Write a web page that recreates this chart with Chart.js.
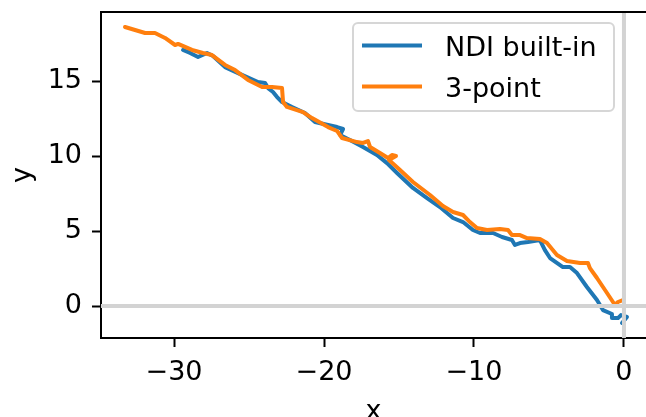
<!DOCTYPE html>
<html>
<head>
<meta charset="utf-8">
<script src="https://cdn.jsdelivr.net/npm/chart.js@4"></script>
<style>
  html, body { margin: 0; padding: 0; background: #fff; }
  canvas { display: block; }
</style>
</head>
<body>
<canvas id="myChart" width="646" height="417"></canvas>
<script>
// NDI built-in track
const ndiX = [-29.4, -28.93, -28.4, -27.8, -27.4, -26.6, -25.73, -24.4, -23.93, -23.73, -23.4, -23.13, -22.8, -22.13, -21.27, -20.6, -19.73, -19.13, -18.73, -18.93, -18.27, -17.4, -16.47, -15.8, -15.13, -14.07, -13.13, -12.27, -11.4, -10.73, -10.07, -9.6, -8.73, -8.13, -7.47, -7.27, -6.93, -6.4, -5.6, -5.27, -4.93, -4.07, -3.6, -3.13, -2.47, -1.8, -1.4, -0.8, -0.8, -0.4, -0.2, 0.2, -0.13];
const ndiY = [17.07, 16.87, 16.6, 16.87, 16.67, 15.93, 15.53, 14.93, 14.87, 14.53, 14.27, 13.93, 13.6, 13.27, 12.87, 12.27, 12.07, 11.93, 11.8, 11.4, 11.07, 10.6, 10.07, 9.53, 8.87, 7.87, 7.2, 6.6, 5.87, 5.6, 5.07, 4.87, 4.87, 4.6, 4.4, 4.07, 4.2, 4.27, 4.4, 3.73, 3.2, 2.6, 2.6, 2.2, 1.27, 0.4, -0.27, -0.53, -0.8, -0.8, -0.6, -0.73, -1.13];

// 3-point track
const threeX = [-33.27, -31.93, -31.27, -30.6, -29.93, -29.73, -28.8, -28.07, -27.47, -26.6, -25.93, -25.07, -24.13, -23.47, -22.8, -22.73, -22.47, -21.4, -20.8, -19.73, -19.13, -18.8, -17.8, -17.4, -17.07, -16.93, -16.27, -15.73, -15.47, -15.2, -15.67, -14.93, -14.07, -12.93, -12.07, -11.4, -10.73, -10.27, -9.8, -9.13, -8.27, -7.73, -7.47, -6.93, -6.47, -5.6, -5.13, -4.47, -3.8, -2.93, -2.4, -2.27, -1.8, -1.13, -0.6, -0.4, -0.07];
const threeY = [18.6, 18.2, 18.2, 17.87, 17.4, 17.47, 17.07, 16.87, 16.73, 16.07, 15.73, 15.07, 14.6, 14.6, 14.53, 13.6, 13.27, 12.93, 12.53, 11.93, 11.67, 11.2, 10.93, 10.87, 11.0, 10.6, 10.2, 9.87, 10.07, 10.0, 9.73, 9.07, 8.27, 7.4, 6.67, 6.27, 6.07, 5.6, 5.2, 5.07, 5.13, 5.07, 4.73, 4.73, 4.53, 4.47, 4.2, 3.4, 3.0, 2.87, 2.87, 2.53, 1.87, 0.87, 0.07, 0.27, 0.4];

const xTicks = [-30, -20, -10, 0];
const yTicks = [0, 5, 10, 15];
const seriesLabels = ["NDI built-in", "3-point"];
const seriesColors = ["#1f77b4", "#ff7f0e"];

const FONT = "'DejaVu Sans', sans-serif";
const fmt = (v) => (v < 0 ? "\u2212" + Math.abs(v) : String(v));
const pts = (xs, ys) => xs.map((x, i) => ({ x: x, y: ys[i] }));

// grey lines through the origin, drawn over the tracks
const zeroLines = {
  id: "zeroLines",
  afterDatasetsDraw(chart) {
    const { ctx, chartArea, scales } = chart;
    const x0 = scales.x.getPixelForValue(0);
    const y0 = scales.y.getPixelForValue(0);
    ctx.save();
    ctx.beginPath();
    ctx.rect(chartArea.left, chartArea.top, chartArea.right - chartArea.left, chartArea.bottom - chartArea.top);
    ctx.clip();
    ctx.strokeStyle = "#d3d3d3";
    ctx.lineWidth = 4;
    ctx.beginPath();
    ctx.moveTo(chartArea.left, y0);
    ctx.lineTo(chartArea.right, y0);
    ctx.moveTo(x0, chartArea.top);
    ctx.lineTo(x0, chartArea.bottom);
    ctx.stroke();
    ctx.restore();
  },
};

// top spine + matplotlib style legend box
const frame = {
  id: "frame",
  afterDraw(chart) {
    const { ctx, chartArea } = chart;
    ctx.save();
    ctx.strokeStyle = "#000";
    ctx.lineWidth = 2;
    ctx.beginPath();
    ctx.moveTo(chartArea.left, chartArea.top);
    ctx.lineTo(chartArea.right, chartArea.top);
    ctx.stroke();

    const bx = 353, by = 23, bw = 261, bh = 88, r = 5;
    ctx.beginPath();
    ctx.roundRect(bx, by, bw, bh, r);
    ctx.fillStyle = "rgba(255,255,255,0.8)";
    ctx.fill();
    ctx.strokeStyle = "#d6d6d6";
    ctx.lineWidth = 2;
    ctx.stroke();

    ctx.font = "27px " + FONT;
    ctx.textBaseline = "alphabetic";
    ctx.textAlign = "left";
    chart.data.datasets.forEach((ds, i) => {
      const rowY = 45.5 + i * 41;
      ctx.strokeStyle = ds.borderColor;
      ctx.lineWidth = 4;
      ctx.beginPath();
      ctx.moveTo(362, rowY);
      ctx.lineTo(422, rowY);
      ctx.stroke();
      ctx.fillStyle = "#000";
      ctx.fillText(ds.label, 445, rowY + 10);
    });
    ctx.restore();
  },
};

const tickFont = { family: FONT, size: 27 };

new Chart(document.getElementById("myChart"), {
  type: "scatter",
  data: {
    datasets: [
      {
        label: seriesLabels[0],
        data: pts(ndiX, ndiY),
        showLine: true,
        borderColor: seriesColors[0],
        backgroundColor: seriesColors[0],
        borderWidth: 4,
        borderJoinStyle: "round",
        borderCapStyle: "round",
        pointRadius: 0,
        order: 1,
      },
      {
        label: seriesLabels[1],
        data: pts(threeX, threeY),
        showLine: true,
        borderColor: seriesColors[1],
        backgroundColor: seriesColors[1],
        borderWidth: 4,
        borderJoinStyle: "round",
        borderCapStyle: "round",
        pointRadius: 0,
        order: 0,
      },
    ],
  },
  options: {
    responsive: false,
    animation: false,
    devicePixelRatio: 1,
    layout: { padding: { top: 12, right: 0, bottom: 0, left: 0 } },
    plugins: { legend: { display: false }, tooltip: { enabled: false } },
    scales: {
      x: {
        type: "linear",
        min: -34.87,
        max: 1.47,
        afterBuildTicks: (s) => { s.ticks = xTicks.map((v) => ({ value: v })); },
        afterFit: (s) => { s.height = 79; s.paddingLeft = 0; s.paddingRight = 0; },
        grid: { drawOnChartArea: false, tickLength: 9, tickColor: "#000", tickWidth: 2 },
        border: { color: "#000", width: 2 },
        ticks: { font: tickFont, color: "#000", padding: 10, maxRotation: 0, autoSkip: false, callback: (v) => fmt(v) },
        title: { display: true, text: "x", color: "#000", font: { family: FONT, size: 27, lineHeight: 0.38 }, padding: 0 },
      },
      y: {
        type: "linear",
        min: -2.13,
        max: 19.6,
        afterBuildTicks: (s) => { s.ticks = yTicks.map((v) => ({ value: v })); },
        afterFit: (s) => { s.width = 101; s.paddingTop = 0; s.paddingBottom = 0; },
        grid: { drawOnChartArea: false, tickLength: 9, tickColor: "#000", tickWidth: 2 },
        border: { color: "#000", width: 2 },
        ticks: { font: tickFont, color: "#000", padding: 10, autoSkip: false, callback: (v) => fmt(v) },
        title: { display: true, text: "y", color: "#000", font: { family: FONT, size: 27, lineHeight: 1 }, padding: { top: 9.5, bottom: 0 } },
      },
    },
  },
  plugins: [zeroLines, frame],
});
</script>
</body>
</html>
